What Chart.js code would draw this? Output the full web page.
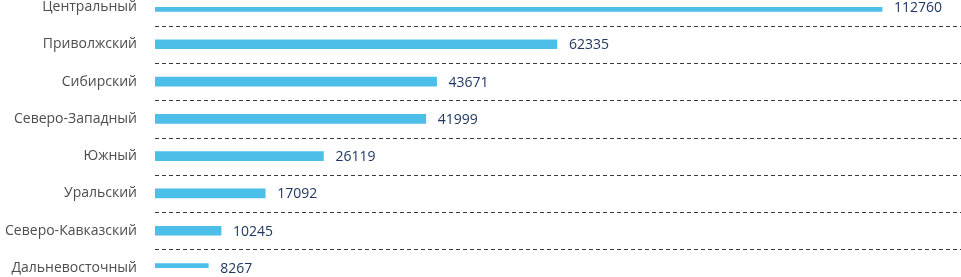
<!DOCTYPE html>
<html>
<head>
<meta charset="utf-8">
<script src="https://cdn.jsdelivr.net/npm/chart.js@4"></script>
<style>
  html, body { margin: 0; padding: 0; background: #fff; }
  #wrap { width: 961px; height: 277px; }
</style>
</head>
<body>
<div id="wrap"><canvas id="bars"></canvas></div>
<script>
var regions = ['Центральный', 'Приволжский', 'Сибирский', 'Северо-Западный',
  'Южный', 'Уральский', 'Северо-Кавказский', 'Дальневосточный'];
var counts = [112760, 62335, 43671, 41999, 26119, 17092, 10245, 8267];

// dashed separators between categories + value labels at bar ends
var extras = {
  id: 'extras',
  beforeDatasetsDraw: function(chart) {
    var ctx = chart.ctx, y = chart.scales.y, area = chart.chartArea;
    ctx.save();
    ctx.strokeStyle = '#3a3a3a';
    ctx.lineWidth = 1;
    ctx.setLineDash([4, 3]);
    for (var i = 0; i < regions.length - 1; i++) {
      var mid = Math.round((y.getPixelForTick(i) + y.getPixelForTick(i + 1)) / 2) + 0.5;
      ctx.beginPath();
      ctx.moveTo(area.left, mid);
      ctx.lineTo(chart.width, mid);
      ctx.stroke();
    }
    ctx.restore();
  },
  afterDatasetsDraw: function(chart) {
    var ctx = chart.ctx;
    var meta = chart.getDatasetMeta(0);
    ctx.save();
    ctx.fillStyle = '#1f3864';
    ctx.font = '14px "Open Sans"';
    ctx.textBaseline = 'middle';
    ctx.textAlign = 'left';
    meta.data.forEach(function(bar, i) {
      ctx.fillText(String(counts[i]), bar.x + 12, bar.y + 1);
    });
    ctx.restore();
  }
};

new Chart(document.getElementById('bars'), {
  type: 'bar',
  data: {
    labels: regions,
    datasets: [{
      data: counts,
      backgroundColor: '#4bbfe8',
      barThickness: 9
    }]
  },
  options: {
    indexAxis: 'y',
    responsive: true,
    maintainAspectRatio: false,
    animation: false,
    layout: { padding: { top: 7, bottom: 9, left: 0, right: 0 } },
    plugins: { legend: { display: false }, tooltip: { enabled: false } },
    scales: {
      x: { display: false, min: 0, max: 125000 },
      y: {
        offset: false,
        grid: { display: false },
        border: { display: false },
        ticks: {
          color: '#4d4d4d',
          font: { family: 'Open Sans', size: 14 },
          padding: 10,
          autoSkip: false
        },
        afterFit: function(scale) {
          scale.width = 155;
          scale.paddingTop = 0;
          scale.paddingBottom = 0;
        }
      }
    }
  },
  plugins: [extras]
});
</script>
</body>
</html>
